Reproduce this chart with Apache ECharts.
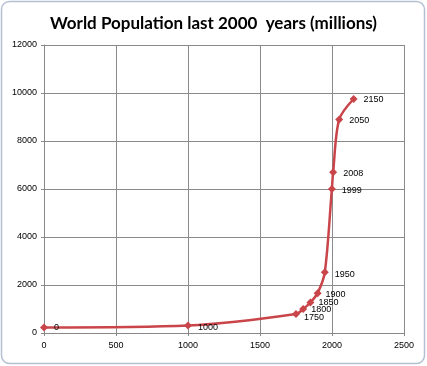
<!DOCTYPE html>
<html><head><meta charset="utf-8">
<script src="https://cdn.jsdelivr.net/npm/echarts@6/dist/echarts.min.js"></script>
<style>html,body{margin:0;padding:0;background:#fff}#c{width:427px;height:366px}</style>
</head><body><div id="c"></div>
<script>
var years = [0, 1000, 1750, 1800, 1850, 1900, 1950, 1999, 2008, 2050, 2150];
var population = [230, 310, 790, 1000, 1270, 1660, 2530, 6000, 6700, 8900, 9750];
var yTicks = [0, 2000, 4000, 6000, 8000, 10000, 12000];
var xTicks = [0, 500, 1000, 1500, 2000, 2500];
var labelOffsets = [[0,0],[0,2],[-2,3],[-2,1],[-2,0],[-2,1],[0,2],[0,2],[0,1],[0,1],[0,1]];

var chart = echarts.init(document.getElementById('c'));
var data = years.map(function(y, i){
  return {value:[y, population[i]], label:{offset:labelOffsets[i]}};
});
chart.setOption({
  animation:false,
  backgroundColor:'#fff',
  title:{text:'World Population last 2000  years (millions)', left:'center', top:10,
    textStyle:{fontFamily:'Lato', fontWeight:'bold', fontSize:17, color:'#000'}},
  graphic:[{type:'rect', shape:{x:1.5,y:1.5,width:423,height:362,r:8},
    style:{fill:null, stroke:'#b4c0d2', lineWidth:1.5}, z:-1}],
  grid:{left:44, right:23, top:45, bottom:33},
  xAxis:{type:'value', min:0, max:2500, interval:500,
    axisLine:{lineStyle:{color:'#888', width:1}},
    axisTick:{show:true, length:3, lineStyle:{color:'#888'}},
    splitLine:{show:true, lineStyle:{color:'#8a8a8a', width:1}},
    axisLabel:{color:'#000', fontSize:9, fontFamily:'Liberation Sans', margin:8,
      formatter:function(v){return String(v);}}},
  yAxis:{type:'value', min:0, max:12000, interval:2000,
    axisLine:{show:true, lineStyle:{color:'#888', width:1}},
    axisTick:{show:true, length:3, lineStyle:{color:'#888'}},
    splitLine:{show:true, lineStyle:{color:'#8a8a8a', width:1}},
    axisLabel:{color:'#000', fontSize:9, fontFamily:'Liberation Sans', margin:7,
      formatter:function(v){return String(v);}}},
  series:[{type:'line', data:data, smooth:0.3,
    symbol:'diamond', symbolSize:8,
    lineStyle:{color:'#c9454a', width:2.5},
    itemStyle:{color:'#c9454a'},
    label:{show:true, position:'right', distance:6, color:'#000', fontSize:9,
      fontFamily:'Liberation Sans',
      formatter:function(p){return String(p.value[0]);}}}]
});
</script></body></html>
